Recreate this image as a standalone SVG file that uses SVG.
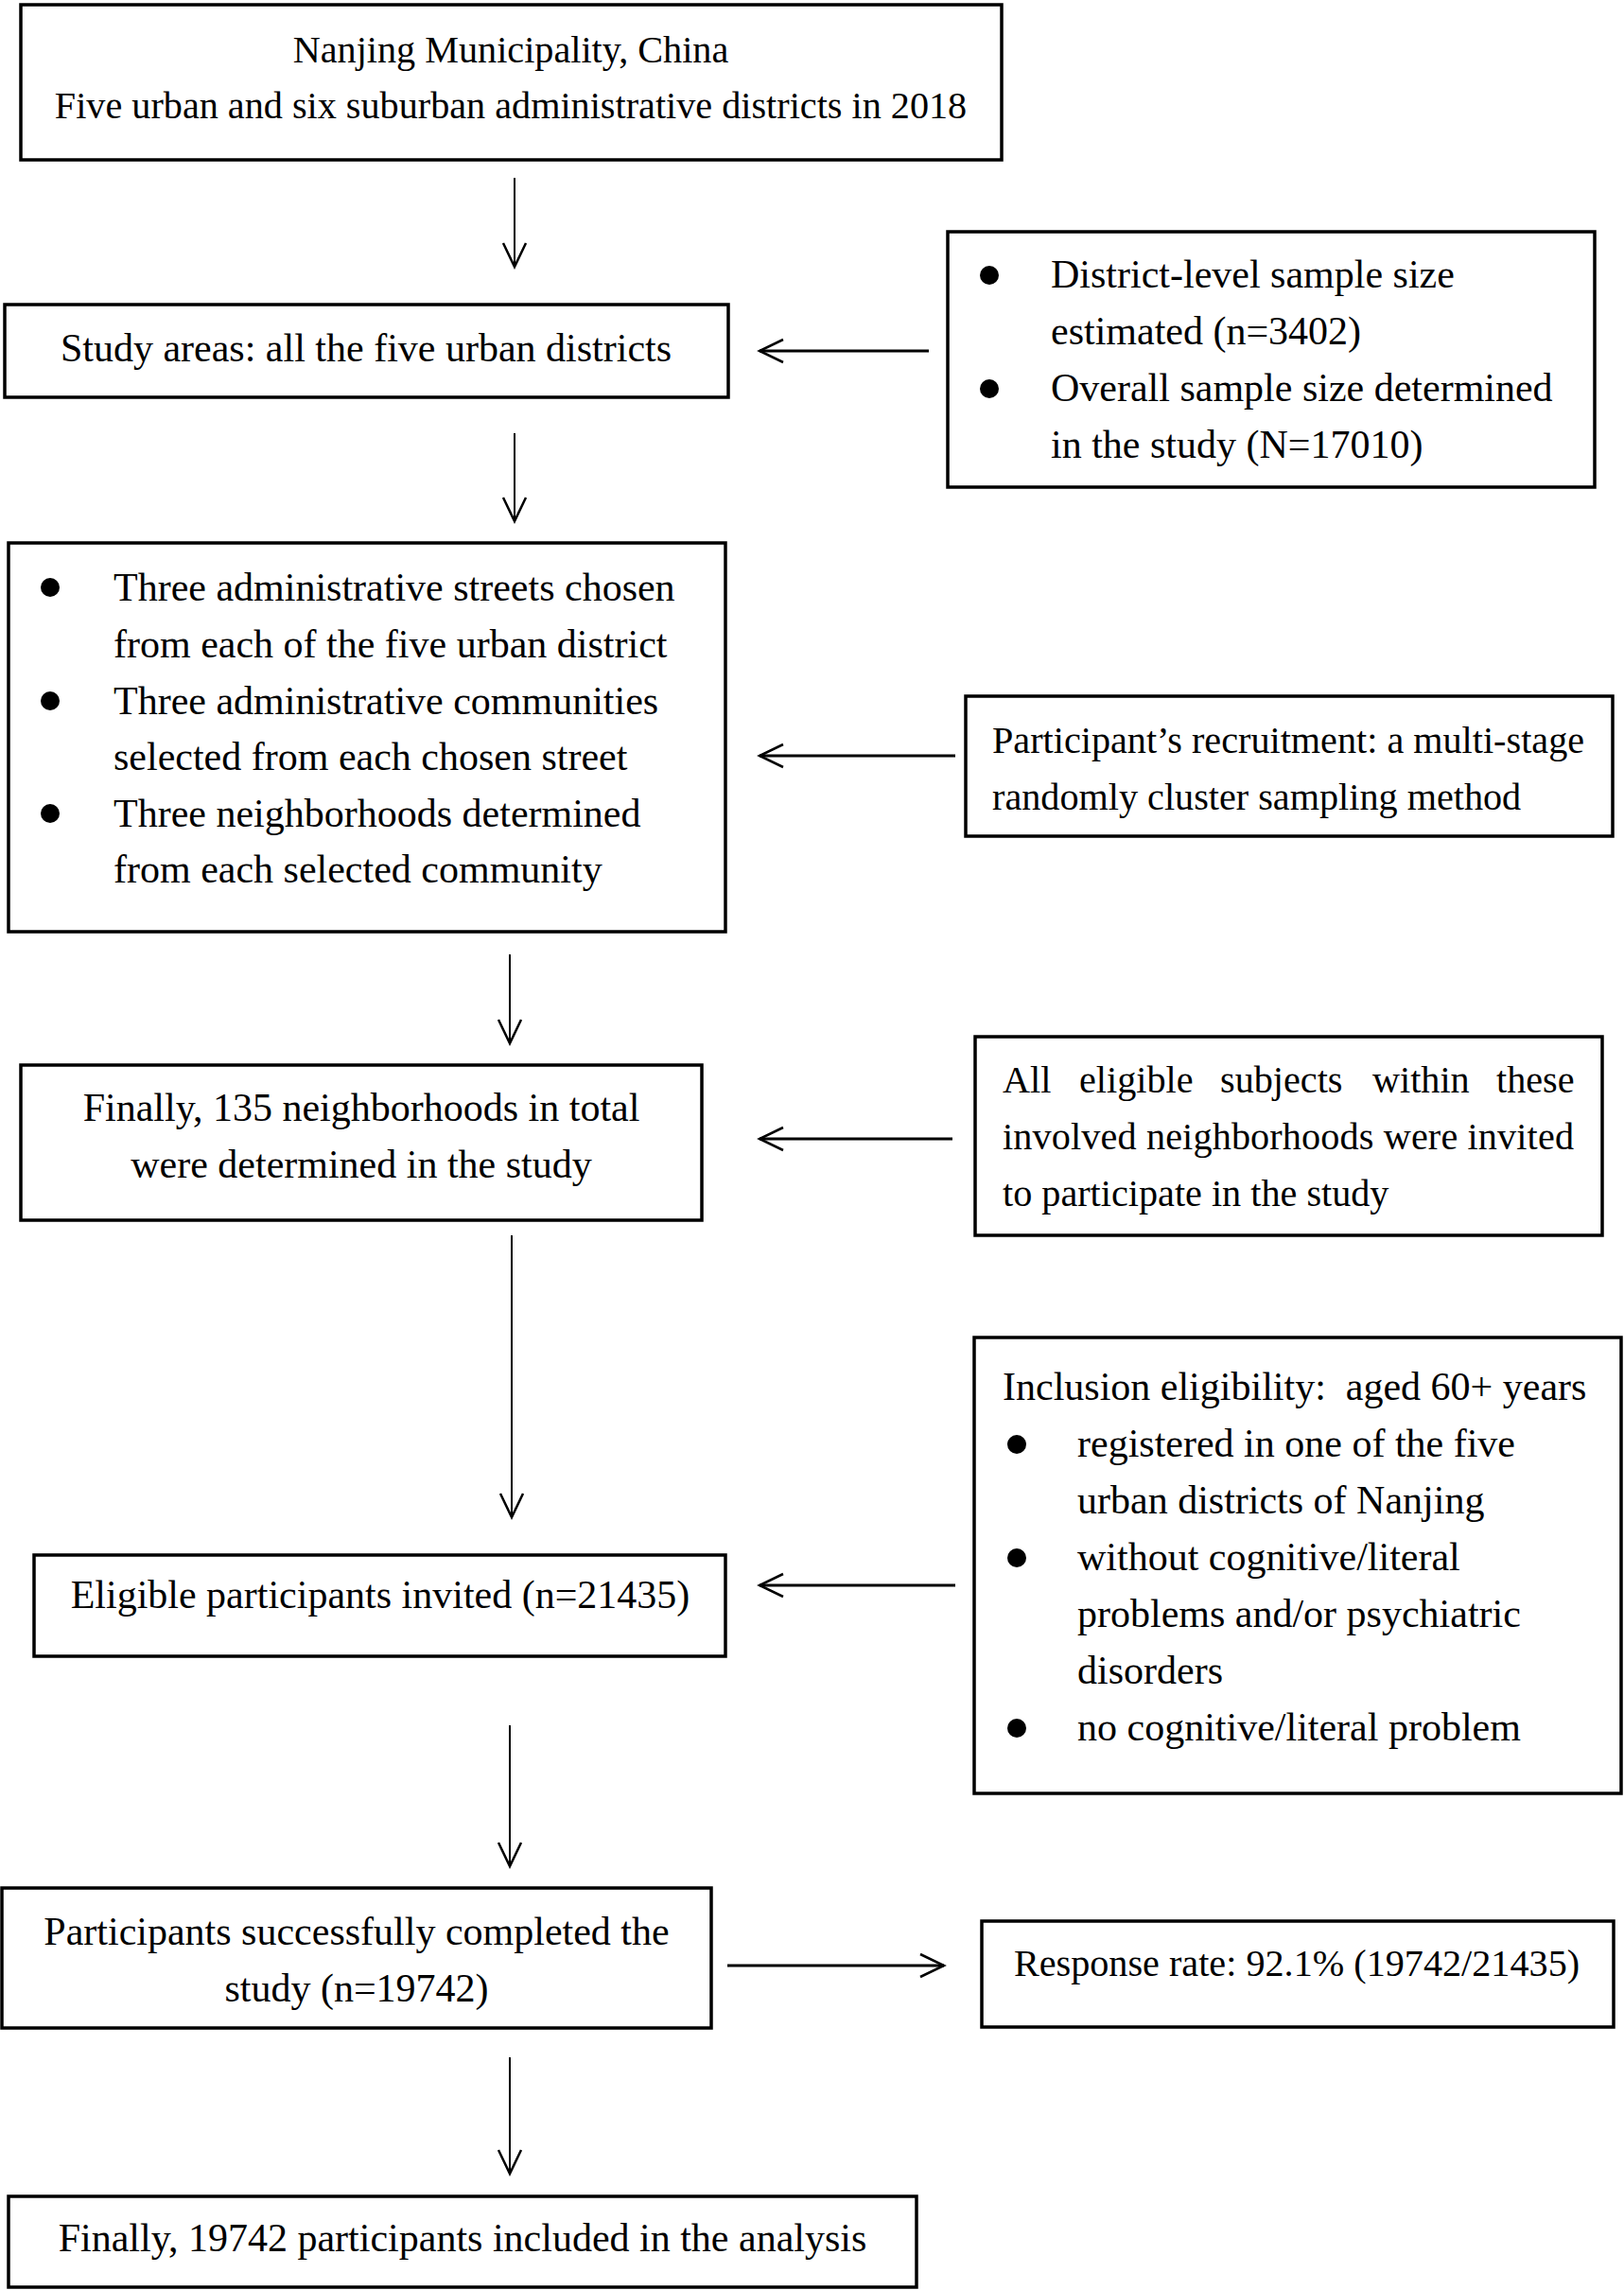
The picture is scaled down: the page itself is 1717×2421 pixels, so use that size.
<svg xmlns="http://www.w3.org/2000/svg" width="1717" height="2421" viewBox="0 0 1717 2421">
<style>
.box{fill:#fff;stroke:#000;stroke-width:3.5}
text{font-family:"Liberation Serif","Times New Roman",serif;font-size:42px;fill:#000}
.s{font-size:40.2px}
.c{text-anchor:middle}
.ln{stroke:#000;stroke-width:2;fill:none}
.lh{stroke:#000;stroke-width:3;fill:none}
.dot{fill:#000}
</style>
<defs>
<marker id="ah" markerUnits="userSpaceOnUse" markerWidth="40" markerHeight="40" viewBox="-30 -20 40 40" refX="0" refY="0" orient="auto" overflow="visible">
<path d="M-25,-12 L0,0 L-25,12" fill="none" stroke="#000" stroke-width="2.5"/>
</marker>
</defs>
<rect width="1717" height="2421" fill="#fff"/>
<g id="connectors">
<line class="ln" x1="544" y1="188" x2="544" y2="282" marker-end="url(#ah)"/>
<line class="ln" x1="544" y1="458" x2="544" y2="551" marker-end="url(#ah)"/>
<line class="ln" x1="539" y1="1009" x2="539" y2="1103" marker-end="url(#ah)"/>
<line class="ln" x1="541" y1="1306" x2="541" y2="1604" marker-end="url(#ah)"/>
<line class="ln" x1="539" y1="1824" x2="539" y2="1973" marker-end="url(#ah)"/>
<line class="ln" x1="539" y1="2175" x2="539" y2="2298" marker-end="url(#ah)"/>
<line class="lh" x1="982" y1="371" x2="803" y2="371" marker-end="url(#ah)"/>
<line class="lh" x1="1010" y1="799" x2="803" y2="799" marker-end="url(#ah)"/>
<line class="lh" x1="1007" y1="1204" x2="803" y2="1204" marker-end="url(#ah)"/>
<line class="lh" x1="1010" y1="1676" x2="803" y2="1676" marker-end="url(#ah)"/>
<line class="lh" x1="769" y1="2078" x2="998" y2="2078" marker-end="url(#ah)"/>
</g>
<g id="n1">
<rect class="box" x="22" y="5" width="1037" height="164"/>
<text class="c s" x="540" y="66">Nanjing Municipality, China</text>
<text class="c s" x="540" y="125">Five urban and six suburban administrative districts in 2018</text>
</g>
<g id="n2">
<rect class="box" x="5" y="322" width="765" height="98"/>
<text class="c" x="387" y="382">Study areas: all the five urban districts</text>
</g>
<g id="nA">
<rect class="box" x="1002" y="245" width="684" height="270"/>
<circle class="dot" cx="1046" cy="291" r="10"/>
<circle class="dot" cx="1046" cy="411" r="10"/>
<text x="1111" y="304">District-level sample size</text>
<text x="1111" y="364">estimated (n=3402)</text>
<text x="1111" y="424">Overall sample size determined</text>
<text x="1111" y="484">in the study (N=17010)</text>
</g>
<g id="n3">
<rect class="box" x="9" y="574" width="758" height="411"/>
<circle class="dot" cx="53" cy="621" r="10"/>
<circle class="dot" cx="53" cy="741" r="10"/>
<circle class="dot" cx="53" cy="860" r="10"/>
<text x="120" y="635">Three administrative streets chosen</text>
<text x="120" y="695">from each of the five urban district</text>
<text x="120" y="755">Three administrative communities</text>
<text x="120" y="814">selected from each chosen street</text>
<text x="120" y="874">Three neighborhoods determined</text>
<text x="120" y="933">from each selected community</text>
</g>
<g id="nB">
<rect class="box" x="1021" y="736" width="684" height="148"/>
<text class="s" x="1049" y="796">Participant’s recruitment: a multi-stage</text>
<text class="s" x="1049" y="856">randomly cluster sampling method</text>
</g>
<g id="n4">
<rect class="box" x="22" y="1126" width="720" height="164"/>
<text class="c" x="382" y="1185">Finally, 135 neighborhoods in total</text>
<text class="c" x="382" y="1245">were determined in the study</text>
</g>
<g id="nC">
<rect class="box" x="1031" y="1096" width="663" height="210"/>
<text class="s" y="1155"><tspan x="1060">All</tspan><tspan x="1141">eligible</tspan><tspan x="1290">subjects</tspan><tspan x="1451">within</tspan><tspan x="1582">these</tspan></text>
<text class="s" x="1060" y="1215" textLength="604" lengthAdjust="spacing">involved neighborhoods were invited</text>
<text class="s" x="1060" y="1275">to participate in the study</text>
</g>
<g id="n5">
<rect class="box" x="36" y="1644" width="731" height="107"/>
<text class="c" x="402" y="1700">Eligible participants invited (n=21435)</text>
</g>
<g id="nD">
<rect class="box" x="1030" y="1414" width="684" height="482"/>
<text x="1060" y="1480">Inclusion eligibility:&#160; aged 60+ years</text>
<circle class="dot" cx="1075" cy="1527" r="10"/>
<circle class="dot" cx="1075" cy="1647" r="10"/>
<circle class="dot" cx="1075" cy="1827" r="10"/>
<text x="1139" y="1540">registered in one of the five</text>
<text x="1139" y="1600">urban districts of Nanjing</text>
<text x="1139" y="1660">without cognitive/literal</text>
<text x="1139" y="1720">problems and/or psychiatric</text>
<text x="1139" y="1780">disorders</text>
<text x="1139" y="1840">no cognitive/literal problem</text>
</g>
<g id="n6">
<rect class="box" x="2" y="1996" width="750" height="148"/>
<text class="c" x="377" y="2056">Participants successfully completed the</text>
<text class="c" x="377" y="2116">study (n=19742)</text>
</g>
<g id="nE">
<rect class="box" x="1038" y="2031" width="668" height="112"/>
<text class="c s" x="1371" y="2089">Response rate: 92.1% (19742/21435)</text>
</g>
<g id="n7">
<rect class="box" x="9" y="2322" width="960" height="96"/>
<text class="c" x="489" y="2380">Finally, 19742 participants included in the analysis</text>
</g>
</svg>
